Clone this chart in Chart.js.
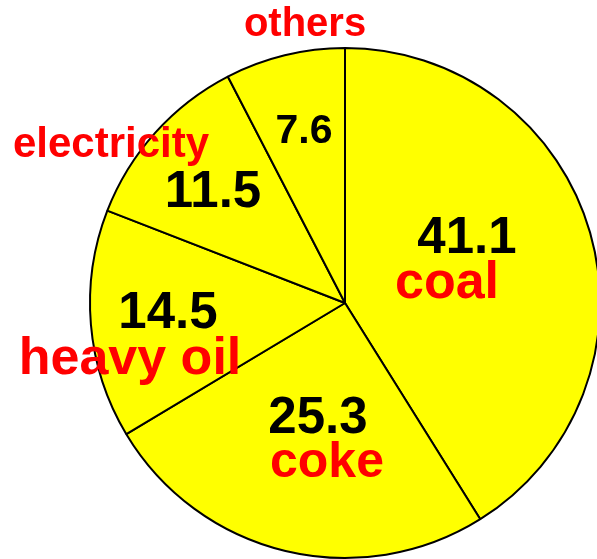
<!DOCTYPE html>
<html>
<head>
<meta charset="utf-8">
<title>Energy share</title>
<script src="https://cdn.jsdelivr.net/npm/chart.js@4/dist/chart.umd.min.js"></script>
<style>
  html, body { margin: 0; padding: 0; background: #fff; overflow: hidden; }
  #wrap { position: absolute; left: 0; top: 0; width: 690px; height: 606px; }
</style>
</head>
<body>
<div id="wrap"><canvas id="pie" width="690" height="606"></canvas></div>
<script>
const categories = ["coal", "coke", "heavy oil", "electricity", "others"];
const values = [41.1, 25.3, 14.5, 11.5, 7.6];

// text placement, pixels from the pie centre: [value dx, value baseline dy, name dx, name baseline dy]
const textPos = [
  [122, -50, 102, -5],
  [-27, 130, -18, 174],
  [-177, 25, -215, 71],
  [-132, -96, -234, -146],
  [-41, -160, -40, -267]
];
const valueSize = [51, 51, 51, 51, 41];
const nameSize = [52, 50, 52, 42, 40];

const sliceText = {
  id: "sliceText",
  afterDatasetsDraw(chart) {
    const ctx = chart.ctx;
    const arc = chart.getDatasetMeta(0).data[0];
    const cx = arc.x, cy = arc.y;
    ctx.save();
    ctx.textAlign = "center";
    ctx.textBaseline = "alphabetic";
    values.forEach((v, i) => {
      const p = textPos[i];
      ctx.fillStyle = "#000";
      ctx.font = "bold " + valueSize[i] + "px 'Liberation Sans', Arial, sans-serif";
      ctx.fillText(v.toFixed(1), cx + p[0], cy + p[1]);
      ctx.fillStyle = "#ff0000";
      ctx.font = "bold " + nameSize[i] + "px 'Liberation Sans', Arial, sans-serif";
      ctx.fillText(categories[i], cx + p[2], cy + p[3]);
    });
    ctx.restore();
  }
};

new Chart(document.getElementById("pie"), {
  type: "pie",
  data: {
    labels: categories,
    datasets: [{
      data: values,
      backgroundColor: "#ffff00",
      borderColor: "#000",
      borderWidth: 2
    }]
  },
  options: {
    responsive: false,
    animation: false,
    layout: { padding: { left: 89, right: 89, top: 47, bottom: 47 } },
    plugins: {
      legend: { display: false },
      tooltip: { enabled: false }
    }
  },
  plugins: [sliceText]
});
</script>
</body>
</html>
